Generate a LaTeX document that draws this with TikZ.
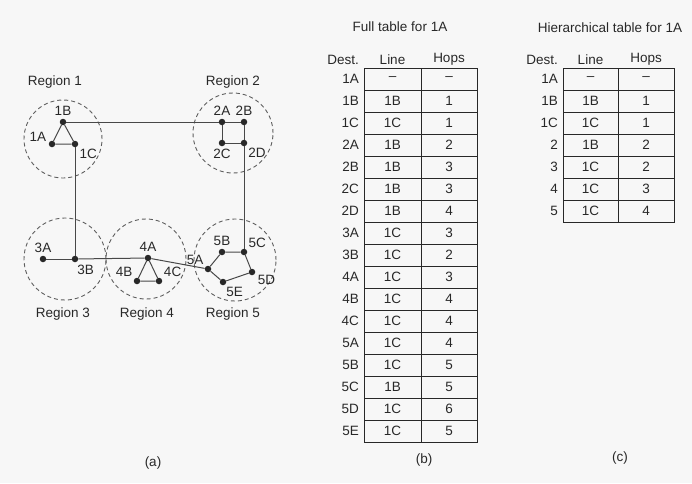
\documentclass[tikz,border=0pt]{standalone}
\usepackage{fontspec}
\setmainfont{Liberation Sans}
\usetikzlibrary{positioning}
\definecolor{ink}{RGB}{40,40,40}
\definecolor{paper}{RGB}{247,247,247}
\tikzset{
    router/.style={
        circle,
        fill=ink,
        inner sep=0pt,
        minimum size=6.5pt
    },
    link/.style={
        draw=ink!85,
        line width=1pt
    },
    region/.style={
        circle,
        draw=ink!75,
        dash pattern=on 4pt off 3pt,
        line width=0.9pt,
        inner sep=0pt
    },
    lbl/.style={
        font=\fontsize{13.5}{14}\selectfont,
        text=ink,
        inner sep=1pt
    },
    cell/.style={
        draw=ink,
        line width=0.9pt,
        minimum height=22pt,
        inner sep=0pt,
        outer sep=0pt,
        font=\fontsize{13.5}{14}\selectfont,
        text=ink
    },
    every label/.style={lbl},
    label distance=1.5pt
}

\begin{document}
\begin{tikzpicture}[x=1pt, y=-1pt]
    \fill[paper] (0,0) rectangle (692,483);
    \useasboundingbox (0,0) rectangle (692,483);

    % (a) the regions
    \node[region, minimum size=78pt] (r1) at (63,139) {};
    \node[region, minimum size=80pt] (r2) at (233,133) {};
    \node[region, minimum size=82pt] (r3) at (65,259) {};
    \node[region, minimum size=80pt] (r4) at (146,259) {};
    \node[region, minimum size=82pt] (r5) at (235,260) {};
    \node[lbl] (r1name) at (55,82) {Region 1};
    \node[lbl] (r2name) at (233,82) {Region 2};
    \node[lbl] (r3name) at (63,314) {Region 3};
    \node[lbl] (r4name) at (147,314) {Region 4};
    \node[lbl] (r5name) at (233,314) {Region 5};

    % routers
    \node[router, label=above:1B] (n1B) at (63,122) {};
    \node[router, label=160:1A] (n1A) at (52,144) {};
    \node[router, label=-45:1C] (n1C) at (75,144) {};
    \node[router, label=above:2A] (n2A) at (222,122) {};
    \node[router, label=above:2B] (n2B) at (244,122) {};
    \node[router, label=below:2C] (n2C) at (222,143) {};
    \node[router, label=-50:2D] (n2D) at (244,143) {};
    \node[router, label=above:3A] (n3A) at (43,259) {};
    \node[router, label=-75:3B] (n3B) at (75,259) {};
    \node[router, label=above:4A] (n4A) at (148,258) {};
    \node[router, label=135:4B] (n4B) at (137,281) {};
    \node[router, label=40:4C] (n4C) at (159,281) {};
    \node[router, label=135:5A] (n5A) at (208,269) {};
    \node[router, label=above:5B] (n5B) at (222,252) {};
    \node[router, label=45:5C] (n5C) at (244,252) {};
    \node[router, label=-20:5D] (n5D) at (252,272) {};
    \node[router, label=-65:5E] (n5E) at (223,282) {};

    \draw[link] (n1A) -- (n1B) -- (n1C) -- (n1A);
    \draw[link] (n2A) -- (n2B) -- (n2D) -- (n2C) -- (n2A);
    \draw[link] (n3A) -- (n3B);
    \draw[link] (n4A) -- (n4B) -- (n4C) -- (n4A);
    \draw[link] (n5A) -- (n5B) -- (n5C) -- (n5D) -- (n5E) -- (n5A);
    \draw[link] (n1B) -- (n2A);
    \draw[link] (n1C) -- (n3B);
    \draw[link] (n2D) -- (n5C);
    \draw[link] (n3B) -- (n4A);
    \draw[link] (n4A) -- (n5A);
    \node[lbl] (capa) at (153,463) {(a)};

    % (b) full table
    \node[lbl] (ftitle) at (400,27) {Full table for 1A};
    \foreach \d/\l/\h [count=\i] in {1A/--/--, 1B/1B/1, 1C/1C/1, 2A/1B/2,
        2B/1B/3, 2C/1B/3, 2D/1B/4, 3A/1C/3, 3B/1C/2, 4A/1C/3, 4B/1C/4,
        4C/1C/4, 5A/1C/4, 5B/1C/5, 5C/1B/5, 5D/1C/6, 5E/1C/5} {
        \node[cell, minimum width=57pt] (fl\i) at (392.5,{57+22*\i}) {\l};
        \node[cell, minimum width=56pt, right=0pt of fl\i] (fh\i) {\h};
        \node[lbl, left=4pt of fl\i] (fd\i) {\d};
    }
    \node[lbl, above=2pt of fl1] (fline) {Line};
    \node[lbl, above=2pt of fh1] (fhops) {Hops};
    \node[lbl, anchor=east] (fdest) at (fd1.east |- fline) {Dest.};
    \node[lbl] (capb) at (424,460) {(b)};

    % (c) hierarchical table
    \node[lbl] (htitle) at (610,28) {Hierarchical table for 1A};
    \foreach \d/\l/\h [count=\i] in {1A/--/--, 1B/1B/1, 1C/1C/1, 2/1B/2,
        3/1C/2, 4/1C/3, 5/1C/4} {
        \node[cell, minimum width=55pt] (hl\i) at (590.5,{57+22*\i}) {\l};
        \node[cell, minimum width=56pt, right=0pt of hl\i] (hh\i) {\h};
        \node[lbl, left=4pt of hl\i] (hd\i) {\d};
    }
    \node[lbl, above=2pt of hl1] (hline) {Line};
    \node[lbl, above=2pt of hh1] (hhops) {Hops};
    \node[lbl, anchor=east] (hdest) at (hd1.east |- hline) {Dest.};
    \node[lbl] (capc) at (620,458) {(c)};
\end{tikzpicture}
\end{document}
